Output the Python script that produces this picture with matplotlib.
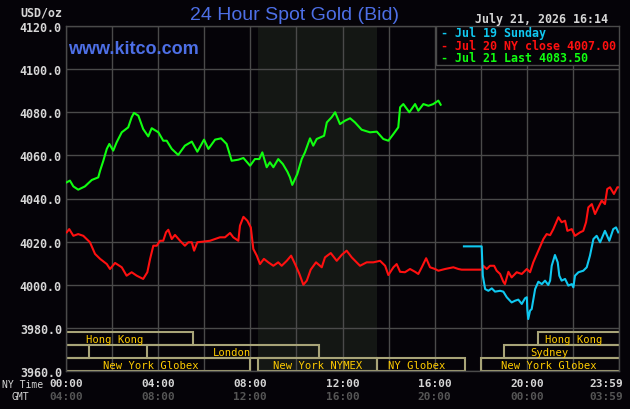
import matplotlib
matplotlib.use("Agg")
import matplotlib.pyplot as plt
from matplotlib.patches import Rectangle

# hours since 00:00 NY time, price in USD/oz
green_h = [0.03, 0.17, 0.32, 0.53, 0.82, 1.12, 1.40, 1.48, 1.62, 1.77, 1.88, 2.05, 2.20, 2.42,
           2.70, 2.85, 2.95, 3.14, 3.35, 3.57, 3.72, 4.01, 4.22, 4.37, 4.59, 4.87, 5.16, 5.46,
           5.70, 5.99, 6.18, 6.47, 6.73, 6.97, 7.19, 7.48, 7.70, 7.99, 8.20, 8.39, 8.52, 8.71,
           8.85, 9.00, 9.21, 9.41, 9.61, 9.72, 9.82, 10.04, 10.23, 10.37, 10.59, 10.73, 10.88,
           11.20, 11.32, 11.53, 11.68, 11.89, 12.11, 12.33, 12.54, 12.83, 13.19, 13.49, 13.77,
           13.99, 14.21, 14.42, 14.50, 14.64, 14.90, 15.15, 15.29, 15.51, 15.73, 15.94, 16.16,
           16.26]
green_v = [4047.5, 4048.3, 4045.6, 4044.1, 4045.6, 4048.6, 4049.8, 4052.9, 4057.5, 4063.0,
           4065.3, 4062.2, 4066.1, 4070.7, 4073.0, 4077.7, 4079.7, 4078.4, 4072.2, 4068.8,
           4072.6, 4070.7, 4066.8, 4066.8, 4063.0, 4060.2, 4064.5, 4066.4, 4061.7, 4067.3,
           4063.0, 4067.3, 4067.9, 4065.3, 4057.5, 4058.0, 4058.8, 4055.2, 4058.3, 4058.3,
           4061.4, 4054.5, 4056.8, 4054.5, 4058.3, 4056.0, 4052.4, 4049.8, 4046.3, 4051.4,
           4058.3, 4061.4, 4067.9, 4064.5, 4067.6, 4069.1, 4075.3, 4077.7, 4080.0, 4074.5,
           4076.1, 4077.2, 4075.3, 4071.9, 4070.7, 4071.0, 4067.6, 4066.8, 4069.9, 4073.0,
           4082.3, 4083.8, 4080.0, 4083.8, 4080.7, 4083.8, 4083.0, 4083.8, 4085.4, 4083.5]

red_h = [0.03, 0.14, 0.32, 0.53, 0.75, 1.04, 1.26, 1.48, 1.77, 1.91, 2.13, 2.42, 2.63, 2.85,
         3.07, 3.35, 3.53, 3.65, 3.79, 3.94, 4.08, 4.22, 4.34, 4.44, 4.59, 4.73, 4.95, 5.16,
         5.31, 5.46, 5.56, 5.70, 5.96, 6.25, 6.47, 6.68, 6.90, 7.12, 7.26, 7.48, 7.55, 7.70,
         7.87, 8.02, 8.13, 8.28, 8.42, 8.59, 8.78, 9.00, 9.21, 9.36, 9.58, 9.77, 9.94, 10.13,
         10.30, 10.45, 10.62, 10.85, 11.10, 11.24, 11.49, 11.75, 11.97, 12.18, 12.40, 12.76,
         13.05, 13.34, 13.63, 13.85, 13.99, 14.21, 14.35, 14.50, 14.71, 14.93, 15.15, 15.29,
         15.44, 15.63, 15.80, 16.02, 16.16, 16.45, 16.81, 17.03, 17.17, 18.04, 18.11, 18.26,
         18.40, 18.58, 18.69, 18.84, 18.98, 19.05, 19.20, 19.34, 19.56, 19.78, 20.00, 20.14,
         20.28, 20.50, 20.72, 20.86, 21.01, 21.15, 21.37, 21.51, 21.66, 21.76, 21.95, 22.09,
         22.31, 22.45, 22.57, 22.67, 22.82, 22.96, 23.10, 23.25, 23.39, 23.49, 23.61, 23.78,
         23.93, 24.0]
red_v = [4024.3, 4025.8, 4022.7, 4023.5, 4022.7, 4019.7, 4014.3, 4012.0, 4009.6, 4007.3,
         4010.1, 4008.1, 4004.2, 4005.8, 4004.2, 4002.7, 4005.8, 4012.0, 4018.1, 4018.1,
         4020.4, 4020.4, 4024.3, 4025.5, 4021.2, 4023.1, 4020.4, 4018.1, 4019.7, 4019.7,
         4015.8, 4019.7, 4020.0, 4020.4, 4021.2, 4022.0, 4022.0, 4024.0, 4022.0, 4020.4,
         4027.4, 4031.5, 4029.7, 4026.6, 4016.6, 4013.5, 4009.6, 4012.0, 4010.4, 4008.8,
         4010.4, 4008.8, 4011.1, 4013.5, 4009.6, 4005.0, 4000.0, 4001.9, 4007.0, 4010.4,
         4008.1, 4012.7, 4014.7, 4011.1, 4013.9, 4015.8, 4012.7, 4008.8, 4010.4, 4010.4,
         4011.1, 4008.8, 4004.5, 4008.1, 4009.6, 4006.0, 4005.8, 4007.3, 4006.0, 4005.0,
         4008.1, 4012.3, 4008.1, 4007.3, 4006.5, 4007.3, 4008.1, 4007.3, 4007.0, 4007.0,
         4008.8, 4007.3, 4008.8, 4008.8, 4006.5, 4005.0, 4001.4, 4000.3, 4006.0, 4003.4,
         4005.8, 4005.0, 4007.3, 4005.8, 4010.4, 4015.8, 4021.2, 4023.5, 4023.0, 4025.8,
         4031.3, 4029.0, 4029.7, 4025.0, 4025.8, 4022.7, 4024.3, 4025.0, 4029.0, 4035.9,
         4037.4, 4032.8, 4035.9, 4039.0, 4037.4, 4044.4, 4045.2, 4042.1, 4045.2, 4045.2]

cyan_h = [17.27, 18.04, 18.09, 18.14, 18.19, 18.33, 18.48, 18.62, 18.84, 18.98, 19.13, 19.34,
          19.49, 19.63, 19.78, 19.92, 20.00, 20.02, 20.06, 20.14, 20.21, 20.36, 20.50, 20.65,
          20.79, 20.93, 21.01, 21.08, 21.22, 21.34, 21.41, 21.51, 21.66, 21.80, 21.95, 22.02,
          22.09, 22.24, 22.45, 22.60, 22.74, 22.89, 23.03, 23.18, 23.39, 23.58, 23.75, 23.87,
          23.97]
cyan_v = [4017.8, 4017.8, 4004.2, 4001.1, 3998.0, 3997.2, 3998.3, 3996.8, 3997.2, 3996.8,
          3994.2, 3991.8, 3992.6, 3993.1, 3991.1, 3993.7, 3994.2, 3988.7, 3984.1, 3988.0,
          3988.7, 3998.0, 4001.4, 4000.3, 4001.9, 3999.9, 4001.9, 4008.8, 4013.8, 4010.4,
          4004.2, 4001.9, 4002.7, 3999.6, 4000.3, 3998.8, 4004.2, 4005.8, 4006.5, 4008.1,
          4013.5, 4021.2, 4022.7, 4019.7, 4025.0, 4020.4, 4025.8, 4026.6, 4024.3]

legend_labels = ["Jul 19 Sunday", "Jul 20 NY close 4007.00", "Jul 21 Last 4083.50"]

# market sessions: name, row (0 = top), open hour, close hour, label hour
session_names = ["Hong Kong", "Hong Kong", "", "London", "Sydney",
                 "New York Globex", "New York NYMEX", "NY Globex", "New York Globex"]
session_rows = [0, 0, 1, 1, 1, 2, 2, 2, 2]
session_open = [-2.5, 20.5, -5.0, 3.5, 19.0, -6.0, 8 + 20 / 60, 13.5, 18.0]
session_close = [5.5, 28.5, 1.0, 11.0, 25.0, 8.0, 13.5, 17.33, 26.0]
session_label_h = [2.13, 22.05, 0, 7.2, 20.98, 3.67, 10.92, 15.2, 20.96]

ny_ticks = [0, 4, 8, 12, 16, 20, 24]
ny_labels = ["00:00", "04:00", "08:00", "12:00", "16:00", "20:00", "23:59"]
gmt_labels = ["04:00", "08:00", "12:00", "16:00", "20:00", "00:00", "03:59"]

BG = "#050308"
GRID = "#4a4a4a"
SHADE = "#141714"
LABEL = "#d6d6d6"
BOX = "#a8a478"
GOLD = "#ffcc00"
BLUE = "#4d6fe6"
MONO = "DejaVu Sans Mono"

fig = plt.figure(figsize=(6.3, 4.1), dpi=100, facecolor=BG)
ax = fig.add_axes([66 / 630, 1 - 372 / 410, (619 - 66) / 630, (372 - 27) / 410], facecolor=BG)
ax.set_xlim(0, 24)
ax.set_ylim(3960, 4120)

# NYMEX pit hours
ax.axvspan(8 + 20 / 60, 13.5, color=SHADE, zorder=0, lw=0)

ax.set_xticks(range(0, 25, 2))
yt = list(range(3960, 4121, 20))
ax.set_yticks(yt)
ax.set_yticklabels([f"{v:.1f}" for v in yt], fontfamily=MONO, fontweight="bold",
                   fontsize=8.4, color=LABEL)
ax.tick_params(length=0, labelbottom=False, pad=3)
ax.grid(True, color=GRID, lw=1, zorder=1)
ax.set_axisbelow(True)
for s in ax.spines.values():
    s.set_color(GRID)
    s.set_linewidth(1)

for name, row, t0, t1, lh in zip(session_names, session_rows, session_open,
                                 session_close, session_label_h):
    y0 = 3972 - 6 * row
    ax.add_patch(Rectangle((t0, y0), t1 - t0, 6, fill=False, edgecolor=BOX, lw=1.5,
                           zorder=2, clip_on=True))
    if name:
        ax.text(lh, y0 + 3, name, ha="center", va="center", color=GOLD,
                fontfamily=MONO, fontsize=7.6, zorder=3)

ax.plot(red_h, red_v, color="#ff1010", lw=1.5, zorder=4)
ax.plot(cyan_h, cyan_v, color="#10c8f0", lw=1.5, zorder=4)
ax.plot(green_h, green_v, color="#10ff10", lw=1.5, zorder=5)

# legend box in the top right corner
ax.add_patch(Rectangle((0.669, 0.887), 0.331, 0.113, transform=ax.transAxes,
                       facecolor=BG, edgecolor=GRID, lw=1, zorder=6))
for i, (lab, col) in enumerate(zip(legend_labels, ["#10c8f0", "#ff1010", "#10ff10"])):
    fig.text(441 / 630, 1 - (34 + 12.5 * i) / 410, "- " + lab, color=col, fontfamily=MONO,
             fontweight="bold", fontsize=8.4, ha="left", va="center", zorder=7)

# x labels: NY time and GMT
for h, ny, gmt in zip(ny_ticks, ny_labels, gmt_labels):
    dx = -9 if h == 24 else 0
    ax.annotate(ny, xy=(h, 0), xycoords=("data", "axes fraction"), xytext=(dx, -8.5),
                textcoords="offset points", ha="center", va="center", color=LABEL,
                fontfamily=MONO, fontweight="bold", fontsize=8.0, annotation_clip=False)
    ax.annotate(gmt, xy=(h, 0), xycoords=("data", "axes fraction"), xytext=(dx, -18),
                textcoords="offset points", ha="center", va="center", color="#555555",
                fontfamily=MONO, fontweight="bold", fontsize=8.0, annotation_clip=False)

fig.text(2 / 630, 1 - 385 / 410, "NY Time", color=LABEL, fontfamily=MONO, fontsize=7.0,
         ha="left", va="center")
fig.text(11 / 630, 1 - 397 / 410, "GMT", color=LABEL, fontfamily=MONO, fontsize=7.0,
         ha="left", va="center")
fig.text(62 / 630, 1 - 13 / 410, "USD/oz", color=LABEL, fontfamily=MONO, fontweight="bold",
         fontsize=8.4, ha="right", va="center")
fig.text(294.5 / 630, 1 - 15 / 410, "24 Hour Spot Gold (Bid)", color=BLUE,
         fontfamily="Liberation Sans", fontsize=14, ha="center", va="center")
fig.text(608 / 630, 1 - 20 / 410, "July 21, 2026 16:14", color=LABEL, fontfamily=MONO,
         fontweight="bold", fontsize=8.4, ha="right", va="center")
ax.text(0.004, 0.935, "www.kitco.com", transform=ax.transAxes, color=BLUE,
        fontfamily="Liberation Sans", fontweight="bold", fontsize=13, ha="left",
        va="center", zorder=6)

fig.savefig("out.png", dpi=100, facecolor=BG)
